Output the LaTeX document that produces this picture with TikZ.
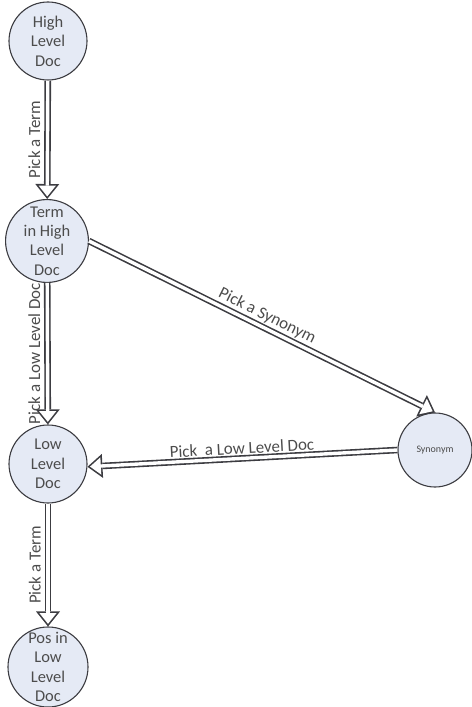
\documentclass[tikz,border=0pt]{standalone}
\usepackage{fontspec}
\setmainfont{Carlito}
\usetikzlibrary{arrows.meta, positioning}
\definecolor{docfill}{RGB}{229,234,245}
\definecolor{ink}{RGB}{60,60,65}

\begin{document}
\begin{tikzpicture}[x=1bp, y=-1bp,
    doc/.style={circle, draw=ink, line width=1.1bp, fill=docfill, minimum size=78bp,
                inner sep=0pt, align=center, text=black!70,
                font=\fontsize{16.5}{19.5}\selectfont},
    % hollow block arrow: dark outline, white inside
    pick/.style={draw=ink, line width=6.6bp,
                 -{Triangle[length=15bp, width=24bp, line width=0pt]},
                 postaction={draw=white, line width=3.4bp, shorten >=2.6bp,
                             -{Triangle[length=10.8bp, width=17.3bp, line width=0pt]}}},
    lbl/.style={font=\fontsize{17}{20}\selectfont, text=black!70, inner sep=1bp}]
    \useasboundingbox (0,0) rectangle (472,707);
    % the docs, top to bottom
    \node[doc] (high) at (48,41) {High\\Level\\Doc};
    \node[doc] (term) at (47,241) {Term\\in High\\Level\\Doc};
    \node[doc] (low) at (48,464) {Low\\Level\\Doc};
    \node[doc] (pos) at (48,667) {Pos in\\Low\\Level\\Doc};
    \node[doc, minimum size=74bp, font=\fontsize{10}{12}\selectfont] (syn) at (435,450) {Synonym};
    % the steps
    \draw[pick] (high) -- node[lbl, midway, rotate=90, anchor=south, inner sep=4bp] {Pick a Term} (term);
    \draw[pick] (term) -- node[lbl, midway, rotate=90, anchor=south, inner sep=4bp] {Pick a Low Level Doc} (low);
    \draw[pick] (low) -- node[lbl, midway, rotate=90, anchor=south, inner sep=4bp] {Pick a Term} (pos);
    \draw[pick] (term.east) -- node[lbl, midway, sloped, above] {Pick a Synonym} (syn.north);
    \draw[pick] (syn.west) -- node[lbl, midway, sloped, above] {Pick~~a Low Level Doc} (low.-4);
\end{tikzpicture}
\end{document}
